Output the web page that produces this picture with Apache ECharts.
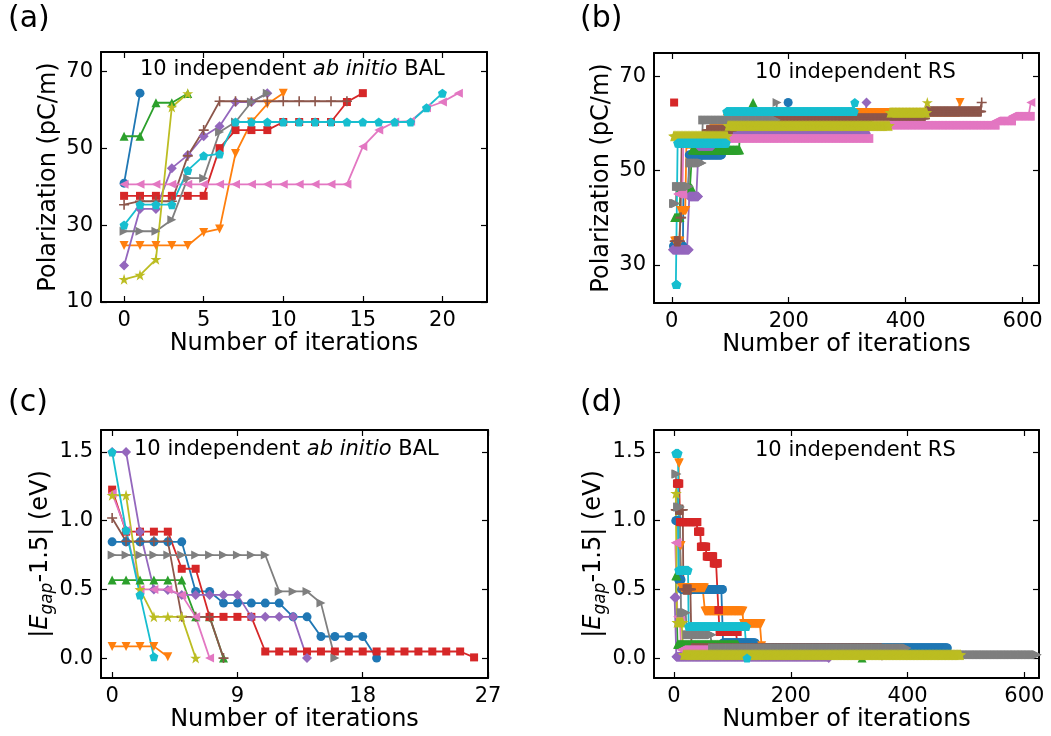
<!DOCTYPE html>
<html>
<head>
<meta charset="utf-8">
<script src="https://cdn.jsdelivr.net/npm/echarts@6/dist/echarts.min.js"></script>
<style>
  html, body { margin: 0; padding: 0; background: #fff; }
  #myChart { width: 1051px; height: 736px; }
</style>
</head>
<body>
<div id="myChart"></div>
<script>
// ---- panel (a): ab initio BAL polarization, one value per iteration ----
const blueA   = [40.9, 64.3];
const orangeA = [24.7, 24.7, 24.7, 24.7, 24.7, 28.1, 29.0, 48.6, 56.8, 61.5, 64.3];
const greenA  = [53.1, 53.1, 61.8, 61.8, 64.2];
const redA    = [37.6, 37.6, 37.6, 37.6, 37.6, 37.6, 50.0, 54.7, 54.7, 54.7, 56.8, 56.8, 56.8, 56.8, 62.0, 64.3];
const purpleA = [19.5, 34.2, 34.2, 44.8, 48.2, 53.1, 55.7, 62.0, 62.0, 64.3];
const brownA  = [35.3, 36.2, 36.2, 36.2, 48.0, 54.7, 62.2, 62.2, 62.2, 62.2, 62.2, 62.2, 62.2, 62.2, 62.2];
const pinkA   = [40.6, 40.6, 40.6, 40.6, 40.6, 40.6, 40.6, 40.6, 40.6, 40.6, 40.6, 40.6, 40.6, 40.6, 40.6, 50.4, 54.7, 56.8, 57.0, 60.5, 62.0, 64.3];
const grayA   = [28.4, 28.4, 28.4, 31.4, 42.2, 42.2, 54.2, 56.8, 62.0, 64.3];
const oliveA  = [15.9, 17.0, 21.1, 60.7, 64.2];
const cyanA   = [30.0, 35.3, 35.3, 35.3, 44.2, 48.0, 48.5, 56.8, 56.8, 56.8, 56.8, 56.8, 56.8, 56.8, 56.8, 56.8, 56.8, 56.8, 56.8, 60.5, 64.3];

// ---- panel (b): RS polarization, running best as [iteration, value] change points ----
const blueB   = [[3, 34], [20, 46], [30, 53.3], [86, 58.6], [199, 64.4]];
const orangeB = [[5, 35], [15, 41.5], [25, 55.5], [70, 59.3], [95, 61], [317, 62.3], [493, 64.4]];
const greenB  = [[5, 40], [15, 46.3], [35, 54.4], [117, 59], [139, 64.4]];
const redB    = [[4, 64.4]];
const purpleB = [[2, 33.2], [30, 44.5], [46, 55.2], [70, 57.9], [333, 64.4]];
const brownB  = [[5, 35], [15, 40], [17, 56.5], [60, 58.5], [104, 61], [434, 62.5], [530, 64.4]];
const pinkB   = [[10, 45], [20, 56.8], [338, 59.6], [554, 60.5], [582, 61.5], [614, 64.4]];
const grayB   = [[3, 43], [8, 46.6], [31, 51.6], [53, 60.7], [180, 64.4]];
const oliveB  = [[3, 57.3], [96, 59.5], [373, 62.3], [437, 64.4]];
const cyanB   = [[7, 25.8], [10, 55.8], [94, 62.5], [313, 64.4]];

// ---- panel (c): ab initio BAL |Egap-1.5| ----
const blueC   = [0.846, 0.846, 0.846, 0.846, 0.846, 0.846, 0.485, 0.485, 0.40, 0.40, 0.40, 0.40, 0.40, 0.30, 0.30, 0.157, 0.157, 0.157, 0.157, 0.0];
const orangeC = [0.085, 0.085, 0.085, 0.085, 0.01];
const greenC  = [0.568, 0.568, 0.568, 0.568, 0.568, 0.568, 0.30, 0.30, 0.0];
const redC    = [1.226, 0.92, 0.92, 0.92, 0.92, 0.65, 0.65, 0.30, 0.30, 0.30, 0.30, 0.048, 0.048, 0.048, 0.048, 0.048, 0.048, 0.048, 0.048, 0.048, 0.048, 0.048, 0.048, 0.048, 0.048, 0.048, 0.005];
const purpleC = [1.5, 1.5, 0.92, 0.5, 0.495, 0.46, 0.46, 0.46, 0.46, 0.46, 0.30, 0.30, 0.30, 0.30, 0.0];
const brownC  = [1.02, 0.85, 0.85, 0.85, 0.85, 0.30, 0.30, 0.30, 0.0];
const pinkC   = [1.2, 0.93, 0.5, 0.5, 0.5, 0.46, 0.30, 0.0];
const grayC   = [0.75, 0.75, 0.75, 0.75, 0.75, 0.75, 0.75, 0.75, 0.75, 0.75, 0.75, 0.75, 0.485, 0.485, 0.485, 0.40, 0.0];
const oliveC  = [1.185, 1.185, 0.5, 0.30, 0.30, 0.30, 0.0];
const cyanC   = [1.5, 0.93, 0.46, 0.01];

// ---- panel (d): RS |Egap-1.5|, running best change points ----
const blueD   = [[3, 1.0], [8, 0.57], [13, 0.50], [84, 0.11], [140, 0.073], [468, 0.073]];
const orangeD = [[8, 1.42], [10, 0.82], [13, 0.51], [53, 0.34], [119, 0.25], [150, 0.09]];
const greenD  = [[3, 0.6], [6, 0.1], [110, 0.06], [322, 0.0]];
const redD    = [[5, 1.27], [10, 0.99], [41, 0.92], [46, 0.81], [56, 0.74], [68, 0.69], [76, 0.35], [78, 0.19], [110, 0.05]];
const purpleD = [[1, 0.44], [4, 0.01], [265, 0.0]];
const brownD  = [[3, 1.08], [16, 0.5], [30, 0.07], [356, 0.02]];
const pinkD   = [[2, 0.84], [6, 0.30], [12, 0.06], [80, 0.06]];
const grayD   = [[3, 1.34], [6, 1.1], [12, 0.33], [22, 0.17], [66, 0.073], [400, 0.024], [622, 0.024]];
const oliveD  = [[3, 1.2], [5, 0.26], [16, 0.024], [491, 0.024]];
const cyanD   = [[3, 1.49], [8, 0.64], [25, 0.23], [125, 0.0]];

// tick labels
const ticksAx = [0, 5, 10, 15, 20];
const ticksAy = [10, 30, 50, 70];
const ticksBx = [0, 200, 400, 600];
const ticksBy = [30, 50, 70];
const ticksCx = [0, 9, 18, 27];
const ticksEy = [0, 0.5, 1.0, 1.5];

const FONT = 'DejaVu Sans';
const COLORS = ['#1f77b4', '#ff7f0e', '#2ca02c', '#d62728', '#9467bd', '#8c564b', '#e377c2', '#7f7f7f', '#bcbd22', '#17becf'];
const SYMBOLS = [
  'circle',
  'path://M0,0 L10,0 L5,9 Z',
  'path://M5,0 L10,9 L0,9 Z',
  'rect',
  'diamond',
  'path://M4.2,0 H5.8 V4.2 H10 V5.8 H5.8 V10 H4.2 V5.8 H0 V4.2 H4.2 Z',
  'path://M0,5 L9,0 L9,10 Z',
  'path://M9,5 L0,0 L0,10 Z',
  'path://M5,0 L6.12,3.45 L9.76,3.45 L6.82,5.59 L7.94,9.05 L5,6.91 L2.06,9.05 L3.18,5.59 L0.24,3.45 L3.88,3.45 Z',
  'path://M5,0 L10,3.8 L8.1,10 L1.9,10 L0,3.8 Z'
];
const SIZES = [9, 9, 9, 8, 10, 10, 9, 9, 11, 9];

// running best: one point per iteration from the change points
function expandSteps(pts) {
  const out = [];
  for (let k = 0; k < pts.length - 1; k++) {
    for (let i = pts[k][0]; i < pts[k + 1][0]; i++) out.push([i, pts[k][1]]);
  }
  out.push(pts[pts.length - 1]);
  return out;
}

function makeSeries(list, gi, fromSteps) {
  return list.map((arr, k) => ({
    type: 'line',
    xAxisIndex: gi,
    yAxisIndex: gi,
    data: fromSteps ? expandSteps(arr) : arr.map((v, i) => [i, v]),
    symbol: SYMBOLS[k],
    symbolSize: SIZES[k],
    itemStyle: { color: COLORS[k] },
    lineStyle: { color: COLORS[k], width: 1.8 },
    emphasis: { disabled: true },
    animation: false
  }));
}

const grids = [
  { left: 101, top: 52, width: 386, height: 250 },
  { left: 654, top: 53, width: 385, height: 250 },
  { left: 101, top: 430, width: 387, height: 248 },
  { left: 654, top: 430, width: 385, height: 248 }
];

const axisFont = { fontFamily: FONT, fontSize: 21, color: '#000' };

function xAxes(gi, min, max, ticks, name) {
  const base = {
    type: 'value', gridIndex: gi, min: min, max: max,
    splitLine: { show: false },
    axisLine: { show: true, onZero: false, lineStyle: { color: '#000', width: 2 } },
    axisTick: { show: true, inside: true, length: 6, customValues: ticks, lineStyle: { color: '#000', width: 1.2 } }
  };
  return [
    Object.assign({}, base, {
      position: 'bottom', name: name, nameLocation: 'middle', nameGap: 30,
      nameTextStyle: { fontFamily: FONT, fontSize: 24, color: '#000' },
      axisLabel: Object.assign({ margin: 8, customValues: ticks }, axisFont)
    }),
    Object.assign({}, base, { position: 'top', axisLabel: { show: false } })
  ];
}

function yAxes(gi, min, max, ticks, name, fmt, gap, rich) {
  const base = {
    type: 'value', gridIndex: gi, min: min, max: max,
    splitLine: { show: false },
    axisLine: { show: true, onZero: false, lineStyle: { color: '#000', width: 2 } },
    axisTick: { show: true, inside: true, length: 6, customValues: ticks, lineStyle: { color: '#000', width: 1.2 } }
  };
  return [
    Object.assign({}, base, {
      position: 'left', name: name, nameLocation: 'middle', nameGap: gap,
      nameTextStyle: { fontFamily: FONT, fontSize: 24, color: '#000', rich: rich },
      axisLabel: Object.assign({ margin: 8, customValues: ticks, formatter: fmt }, axisFont)
    }),
    Object.assign({}, base, { position: 'right', axisLabel: { show: false } })
  ];
}

const egapRich = {
  n: { fontFamily: FONT, fontSize: 24, color: '#000' },
  i: { fontFamily: FONT, fontSize: 24, fontStyle: 'italic', color: '#000' },
  s: { fontFamily: FONT, fontSize: 17, fontStyle: 'italic', color: '#000', padding: [12, 0, 0, 0] }
};
const egapName = '{n||}{i|E}{s|gap}{n|-1.5| (eV)}';
const fmt1 = v => v.toFixed(1);
const fmt0 = v => String(v);

const xList = []
  .concat(xAxes(0, -1.45, 22.8, ticksAx, 'Number of iterations'))
  .concat(xAxes(1, -30.4, 628, ticksBx, 'Number of iterations'))
  .concat(xAxes(2, -0.8, 27, ticksCx, 'Number of iterations'))
  .concat(xAxes(3, -34.3, 625, ticksBx, 'Number of iterations'));
const yList = []
  .concat(yAxes(0, 10, 75, ticksAy, 'Polarization (pC/m)', fmt0, 40))
  .concat(yAxes(1, 21.9, 74.9, ticksBy, 'Polarization (pC/m)', fmt0, 40))
  .concat(yAxes(2, -0.145, 1.66, ticksEy, egapName, fmt1, 44, egapRich))
  .concat(yAxes(3, -0.145, 1.66, ticksEy, egapName, fmt1, 45, egapRich));

// series use axis indices 0,2,4,6 (bottom/left axes)
const series = []
  .concat(makeSeries([blueA, orangeA, greenA, redA, purpleA, brownA, pinkA, grayA, oliveA, cyanA], 0, false))
  .concat(makeSeries([blueB, orangeB, greenB, redB, purpleB, brownB, pinkB, grayB, oliveB, cyanB], 2, true))
  .concat(makeSeries([blueC, orangeC, greenC, redC, purpleC, brownC, pinkC, grayC, oliveC, cyanC], 4, false))
  .concat(makeSeries([blueD, orangeD, greenD, redD, purpleD, brownD, pinkD, grayD, oliveD, cyanD], 6, true));

const titleRich = {
  n: { fontFamily: FONT, fontSize: 21, color: '#000' },
  i: { fontFamily: FONT, fontSize: 21, fontStyle: 'italic', color: '#000' }
};
const balText = '{n|10 independent }{i|ab initio}{n| BAL}';
const rsText = '{n|10 independent RS}';
function inTitle(text, left, top) {
  return { text: text, left: left, top: top, padding: 0, textStyle: { rich: titleRich, fontFamily: FONT, fontSize: 21, fontWeight: 'normal', color: '#000' } };
}

const myChart = echarts.init(document.getElementById('myChart'), null, { renderer: 'canvas' });
myChart.setOption({
  animation: false,
  backgroundColor: '#fff',
  title: [
    inTitle(balText, 140, 59),
    inTitle(rsText, 755, 62),
    inTitle(balText, 134, 439),
    inTitle(rsText, 755, 440)
  ],
  graphic: [
    { type: 'text', left: 8, top: 4, style: { text: '(a)', font: '30px "DejaVu Sans"', fill: '#000' } },
    { type: 'text', left: 580, top: 4, style: { text: '(b)', font: '30px "DejaVu Sans"', fill: '#000' } },
    { type: 'text', left: 8, top: 388, style: { text: '(c)', font: '30px "DejaVu Sans"', fill: '#000' } },
    { type: 'text', left: 580, top: 388, style: { text: '(d)', font: '30px "DejaVu Sans"', fill: '#000' } }
  ],
  grid: grids,
  xAxis: xList,
  yAxis: yList,
  series: series
});
</script>
</body>
</html>
